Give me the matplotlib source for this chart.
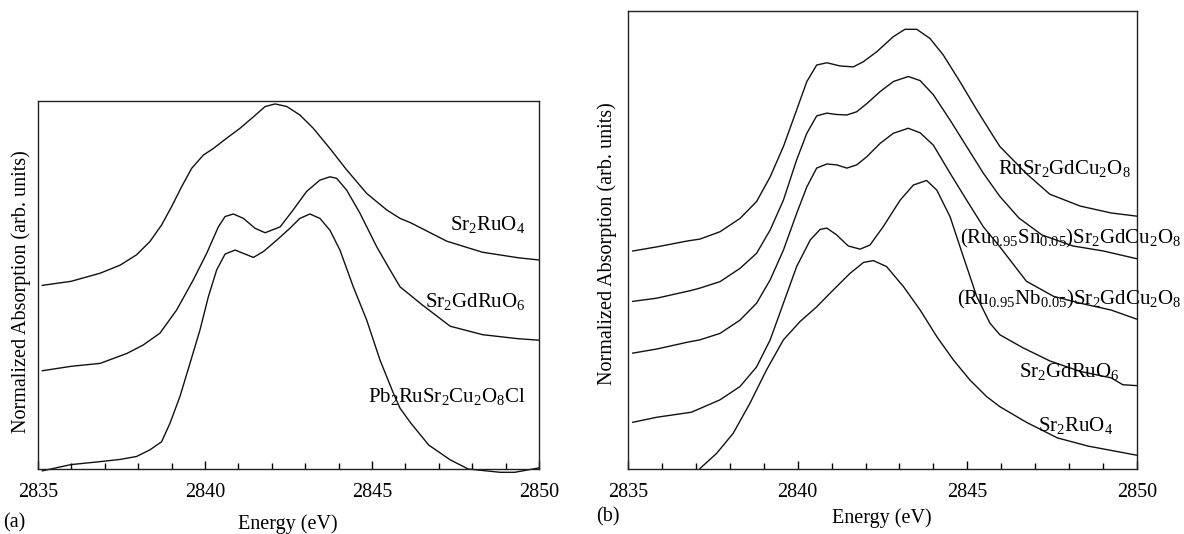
import matplotlib
matplotlib.use("Agg")
import matplotlib.pyplot as plt
from matplotlib.ticker import MultipleLocator

plt.rcParams['font.family'] = ['Liberation Serif', 'DejaVu Serif']
plt.rcParams['mathtext.fontset'] = 'custom'
plt.rcParams['mathtext.rm'] = 'Liberation Serif'
plt.rcParams['mathtext.it'] = 'Liberation Serif:italic'
plt.rcParams['mathtext.bf'] = 'Liberation Serif:bold'

# ---- panel (a) ----
a_sr2ruo4_x = [2835.13, 2835.99, 2836.86, 2837.46, 2837.95, 2838.35, 2838.70, 2839.00, 2839.30,
               2839.60, 2839.95, 2840.25, 2840.65, 2841.05, 2841.45, 2841.80, 2842.10, 2842.45,
               2842.84, 2843.24, 2843.74, 2844.24, 2844.84, 2845.44, 2845.84, 2846.16, 2847.24,
               2848.31, 2849.38, 2850.0]
a_sr2ruo4_y = [0.499, 0.510, 0.532, 0.554, 0.582, 0.618, 0.663, 0.713, 0.767,
               0.817, 0.853, 0.871, 0.899, 0.926, 0.957, 0.985, 0.992, 0.985,
               0.962, 0.926, 0.871, 0.813, 0.749, 0.704, 0.681, 0.669, 0.619,
               0.589, 0.574, 0.568]

a_sr2gdruo6_x = [2835.13, 2835.99, 2836.86, 2837.66, 2838.15, 2838.65, 2839.15, 2839.65, 2840.05,
                 2840.40, 2840.60, 2840.85, 2841.15, 2841.50, 2841.80, 2842.25, 2842.64, 2843.04,
                 2843.44, 2843.74, 2843.94, 2844.24, 2844.64, 2845.14, 2845.54, 2845.84, 2846.49,
                 2847.34, 2848.31, 2849.38, 2850.0]
a_sr2gdruo6_y = [0.267, 0.279, 0.287, 0.314, 0.337, 0.369, 0.432, 0.514, 0.586,
                 0.658, 0.686, 0.693, 0.681, 0.654, 0.642, 0.658, 0.704, 0.754,
                 0.785, 0.794, 0.790, 0.758, 0.695, 0.604, 0.541, 0.495, 0.447,
                 0.388, 0.365, 0.354, 0.350]

a_pb_x = [2835.13, 2835.99, 2836.86, 2837.46, 2837.95, 2838.35, 2838.70, 2838.95, 2839.25,
          2839.55, 2839.85, 2840.10, 2840.35, 2840.60, 2840.90, 2841.20, 2841.45, 2841.75,
          2842.15, 2842.54, 2842.84, 2843.14, 2843.44, 2843.74, 2844.04, 2844.44, 2844.84,
          2845.24, 2845.64, 2845.84, 2846.16, 2846.70, 2847.34, 2847.88, 2848.84, 2849.27,
          2850.0]
a_pb_y = [-0.005, 0.012, 0.020, 0.026, 0.034, 0.052, 0.074, 0.124, 0.197,
          0.287, 0.378, 0.468, 0.541, 0.584, 0.595, 0.584, 0.575, 0.591,
          0.622, 0.654, 0.681, 0.693, 0.681, 0.649, 0.595, 0.495, 0.405,
          0.296, 0.206, 0.165, 0.125, 0.065, 0.025, 0.0, -0.009, -0.009,
          0.003]

a_labels = [r'Sr$_2$RuO$_4$', r'Sr$_2$GdRuO$_6$', r'Pb$_2$RuSr$_2$Cu$_2$O$_8$Cl']
a_label_y = [0.665, 0.456, 0.198]

# ---- panel (b) ----
b_ru1212_x = [2835.14, 2835.85, 2836.76, 2837.12, 2837.71, 2838.30, 2838.79, 2839.19, 2839.58,
              2839.97, 2840.27, 2840.56, 2840.86, 2841.25, 2841.64, 2841.93, 2842.33, 2842.82,
              2843.16, 2843.51, 2843.90, 2844.29, 2844.78, 2845.28, 2845.77, 2845.96, 2846.74,
              2847.43, 2848.33, 2849.24, 2850.0]
b_ru1212_y = [0.476, 0.485, 0.498, 0.502, 0.518, 0.547, 0.584, 0.638, 0.704,
              0.784, 0.846, 0.882, 0.887, 0.880, 0.878, 0.889, 0.911, 0.944,
              0.960, 0.960, 0.940, 0.904, 0.846, 0.784, 0.726, 0.704, 0.645,
              0.600, 0.574, 0.559, 0.552]

b_sn_x = [2835.14, 2835.85, 2836.87, 2837.12, 2837.71, 2838.30, 2838.79, 2839.19, 2839.58,
          2839.97, 2840.27, 2840.56, 2840.86, 2841.15, 2841.45, 2841.74, 2842.04, 2842.43,
          2842.82, 2843.26, 2843.61, 2844.00, 2844.49, 2844.98, 2845.47, 2845.96, 2846.52,
          2847.20, 2848.11, 2849.01, 2850.0]
b_sn_y = [0.366, 0.373, 0.390, 0.395, 0.409, 0.438, 0.471, 0.522, 0.587,
          0.675, 0.733, 0.771, 0.777, 0.774, 0.773, 0.780, 0.798, 0.824,
          0.846, 0.857, 0.848, 0.817, 0.762, 0.704, 0.646, 0.595, 0.548,
          0.511, 0.487, 0.476, 0.459]

b_nb_x = [2835.14, 2835.85, 2836.76, 2837.12, 2837.71, 2838.30, 2838.79, 2839.19, 2839.58,
          2839.97, 2840.27, 2840.56, 2840.86, 2841.15, 2841.45, 2841.74, 2842.04, 2842.43,
          2842.82, 2843.26, 2843.61, 2844.00, 2844.49, 2844.98, 2845.47, 2845.96, 2846.74,
          2847.54, 2848.33, 2849.24, 2850.0]
b_nb_y = [0.253, 0.262, 0.277, 0.282, 0.296, 0.325, 0.362, 0.413, 0.478,
          0.558, 0.616, 0.657, 0.666, 0.664, 0.657, 0.664, 0.682, 0.711,
          0.733, 0.744, 0.734, 0.707, 0.646, 0.587, 0.529, 0.485, 0.410,
          0.377, 0.362, 0.347, 0.327]

b_sr2gdruo6_x = [2835.14, 2835.85, 2836.87, 2837.12, 2837.71, 2838.30, 2838.79, 2839.19, 2839.58,
                 2839.97, 2840.37, 2840.66, 2840.86, 2841.15, 2841.49, 2841.84, 2842.13, 2842.52,
                 2843.02, 2843.41, 2843.80, 2844.10, 2844.49, 2844.88, 2845.28, 2845.67, 2845.96,
                 2846.63, 2847.43, 2848.33, 2849.24, 2849.58, 2850.0]
b_sr2gdruo6_y = [0.102, 0.113, 0.124, 0.132, 0.151, 0.180, 0.223, 0.282, 0.362,
                 0.442, 0.500, 0.523, 0.526, 0.511, 0.487, 0.480, 0.489, 0.529,
                 0.587, 0.620, 0.630, 0.609, 0.551, 0.464, 0.376, 0.318, 0.293,
                 0.265, 0.236, 0.213, 0.199, 0.184, 0.182]

b_sr2ruo4_x = [2837.12, 2837.61, 2838.10, 2838.59, 2839.08, 2839.58, 2840.07, 2840.56, 2841.05,
               2841.54, 2841.94, 2842.23, 2842.62, 2843.12, 2843.61, 2844.10, 2844.59, 2845.08,
               2845.57, 2845.96, 2846.74, 2847.65, 2848.56, 2850.0]
b_sr2ruo4_y = [0.001, 0.034, 0.078, 0.143, 0.216, 0.282, 0.322, 0.354, 0.391,
               0.427, 0.451, 0.455, 0.442, 0.398, 0.347, 0.289, 0.238, 0.194,
               0.158, 0.136, 0.102, 0.068, 0.050, 0.030]

b_labels = [r'RuSr$_2$GdCu$_2$O$_8$',
            r'(Ru$_{0.95}$Sn$_{0.05}$)Sr$_2$GdCu$_2$O$_8$',
            r'(Ru$_{0.95}$Nb$_{0.05}$)Sr$_2$GdCu$_2$O$_8$',
            r'Sr$_2$GdRuO$_6$',
            r'Sr$_2$RuO$_4$']
b_label_x = [2849.8, 2851.3, 2851.3, 2849.5, 2849.3]
b_label_y = [0.656, 0.503, 0.370, 0.213, 0.094]

xticks = [2835, 2840, 2845, 2850]
fs = 14.5
fs_lab = 15

fig = plt.figure(figsize=(11.84, 5.34), dpi=100)
axa = fig.add_axes([38 / 1184, 65 / 534, 501 / 1184, 368 / 534])
axb = fig.add_axes([628 / 1184, 65 / 534, 509 / 1184, 458 / 534])


def style(ax):
    ax.set_xlim(2835, 2850)
    ax.set_ylim(0, 1)
    ax.set_xticks(xticks)
    ax.xaxis.set_minor_locator(MultipleLocator(1))
    ax.tick_params(axis='x', which='both', direction='in', top=False, labelsize=fs, pad=10)
    ax.tick_params(axis='x', which='major', length=6, width=1)
    ax.tick_params(axis='x', which='minor', length=4, width=1)
    ax.set_yticks([])
    for s in ax.spines.values():
        s.set_linewidth(1.0)
        s.set_color('#222222')


lw = 1.0
col = '#111111'
for xs, ys in [(a_sr2ruo4_x, a_sr2ruo4_y), (a_sr2gdruo6_x, a_sr2gdruo6_y), (a_pb_x, a_pb_y)]:
    axa.plot(xs, ys, color=col, lw=lw, clip_on=False)
for lab, yy in zip(a_labels, a_label_y):
    axa.text(2849.6, yy, lab, ha='right', va='center', fontsize=fs_lab)
style(axa)

for xs, ys in [(b_ru1212_x, b_ru1212_y), (b_sn_x, b_sn_y), (b_nb_x, b_nb_y),
               (b_sr2gdruo6_x, b_sr2gdruo6_y), (b_sr2ruo4_x, b_sr2ruo4_y)]:
    axb.plot(xs, ys, color=col, lw=lw, clip_on=False)
for lab, xx, yy in zip(b_labels, b_label_x, b_label_y):
    axb.text(xx, yy, lab, ha='right', va='center', fontsize=fs_lab, clip_on=False)
style(axb)

fig.text(21 / 1184, 1 - 292 / 534, 'Normalized Absorption (arb. units)', rotation=90,
         ha='center', va='center', fontsize=fs)
fig.text(607 / 1184, 1 - 244 / 534, 'Normalized Absorption (arb. units)', rotation=90,
         ha='center', va='center', fontsize=fs)
fig.text(3 / 1184, 1 - 523 / 534, '(a)', ha='left', va='center', fontsize=fs)
fig.text(288 / 1184, 1 - 524 / 534, 'Energy (eV)', ha='center', va='center', fontsize=fs)
fig.text(596 / 1184, 1 - 517 / 534, '(b)', ha='left', va='center', fontsize=fs)
fig.text(882 / 1184, 1 - 518 / 534, 'Energy (eV)', ha='center', va='center', fontsize=fs)

fig.savefig('out.png', dpi=100, facecolor='white')
